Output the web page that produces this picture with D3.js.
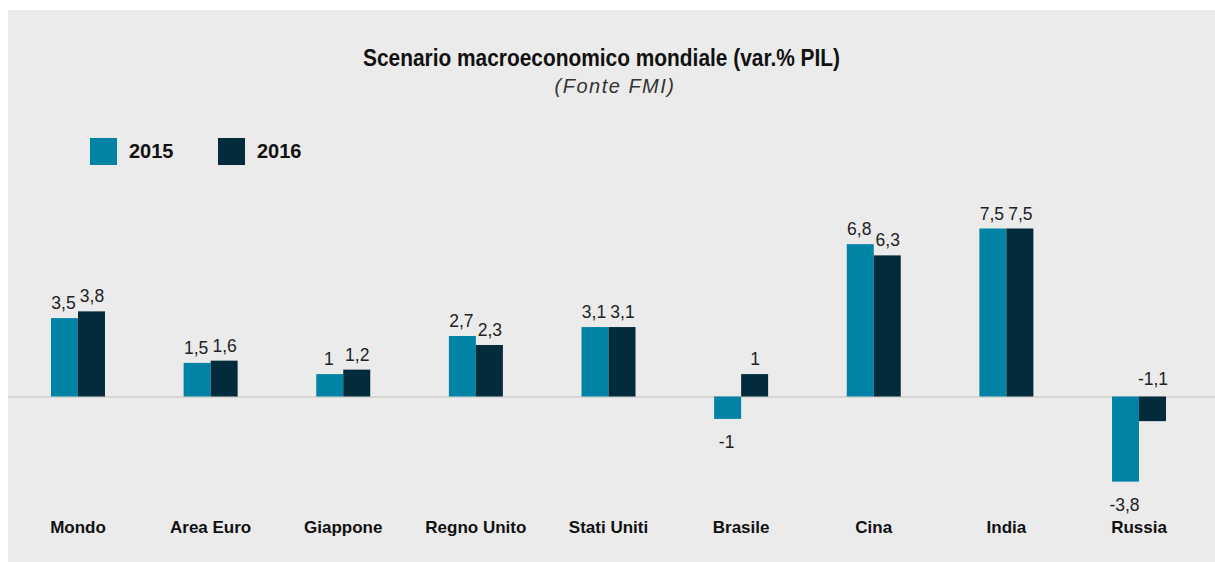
<!DOCTYPE html>
<html>
<head>
<meta charset="utf-8">
<script src="https://cdn.jsdelivr.net/npm/d3@7"></script>
<style>
  html, body { margin: 0; padding: 0; background: #ffffff; }
  svg { display: block; }
</style>
</head>
<body>
<svg id="chart" width="1215" height="562"></svg>
<script>
// ---- DATA ----
const categories = ["Mondo", "Area Euro", "Giappone", "Regno Unito", "Stati Uniti", "Brasile", "Cina", "India", "Russia"];
const seriesNames = ["2015", "2016"];
const values2015 = [3.5, 1.5, 1, 2.7, 3.1, -1, 6.8, 7.5, -3.8];
const values2016 = [3.8, 1.6, 1.2, 2.3, 3.1, 1, 6.3, 7.5, -1.1];
const titleText = "Scenario macroeconomico mondiale (var.% PIL)";
const subtitleText = "(Fonte FMI)";
// label of this (category, series) is drawn above the zero line
const labelsAboveZero = [["Russia", "2016"]];

// ---- STYLE ----
const W = 1215, H = 562;
const colors = { "2015": "#0083a5", "2016": "#022b3b" };
const panelColor = "#ebebeb";

const svg = d3.select("#chart");

svg.append("rect").attr("x", 8).attr("y", 10).attr("width", W - 8).attr("height", H - 10)
  .attr("fill", panelColor);

// scales
const x = d3.scalePoint().domain(categories).range([78, 1139]);
const xs = d3.scaleBand().domain(seriesNames).range([-27, 27]);
const y = d3.scaleLinear().domain([-4, 8]).range([396.5 + 4 * 22.4, 396.5 - 8 * 22.4]);

const rows = [];
categories.forEach((c, i) => {
  rows.push({ cat: c, s: "2015", v: values2015[i] });
  rows.push({ cat: c, s: "2016", v: values2016[i] });
});

// zero line
svg.append("line")
  .attr("x1", 8).attr("x2", W)
  .attr("y1", y(0) + 0.5).attr("y2", y(0) + 0.5)
  .attr("stroke", "#d6d6d3").attr("stroke-width", 2);

// bars
svg.append("g").selectAll("rect").data(rows).join("rect")
  .attr("x", d => x(d.cat) + xs(d.s))
  .attr("width", xs.bandwidth())
  .attr("y", d => Math.min(y(d.v), y(0)))
  .attr("height", d => Math.abs(y(d.v) - y(0)))
  .attr("fill", d => colors[d.s]);

// value labels
const fmt = v => String(v).replace(".", ",");
const isAbove = d => labelsAboveZero.some(p => p[0] === d.cat && p[1] === d.s);
svg.append("g").selectAll("text").data(rows).join("text")
  .attr("x", d => x(d.cat) + xs(d.s) + xs.bandwidth() / 2 + (d.s === "2015" ? -1 : 0.5))
  .attr("y", d => {
    if (isAbove(d)) return y(0) - 11.5;
    return d.v >= 0 ? y(d.v) - 9 : y(d.v) + 29.5;
  })
  .attr("text-anchor", "middle")
  .attr("font-family", "'Liberation Sans', Arial, sans-serif")
  .attr("font-size", 17.5)
  .attr("fill", "#222")
  .text(d => fmt(d.v));

// category labels
svg.append("g").selectAll("text").data(categories).join("text")
  .attr("x", d => x(d))
  .attr("y", 533)
  .attr("text-anchor", "middle")
  .attr("font-family", "'Liberation Sans', Arial, sans-serif")
  .attr("font-weight", "bold")
  .attr("font-size", 17)
  .attr("fill", "#111")
  .text(d => d);

// title (condensed look)
svg.append("text")
  .attr("x", 363).attr("y", 66)
  .attr("font-family", "'Liberation Sans', Arial, sans-serif")
  .attr("font-weight", "bold")
  .attr("font-size", 23)
  .attr("textLength", 477)
  .attr("lengthAdjust", "spacingAndGlyphs")
  .attr("fill", "#111")
  .text(titleText);

svg.append("text")
  .attr("x", 615).attr("y", 92.5)
  .attr("text-anchor", "middle")
  .attr("font-family", "'Liberation Sans', Arial, sans-serif")
  .attr("font-style", "italic")
  .attr("font-size", 20)
  .attr("letter-spacing", 1.5)
  .attr("fill", "#333")
  .text(subtitleText);

// legend
const legendX = { "2015": 90, "2016": 218 };
const lg = svg.append("g").selectAll("g").data(seriesNames).join("g")
  .attr("transform", d => `translate(${legendX[d]},138)`);
lg.append("rect").attr("width", 27).attr("height", 27).attr("fill", d => colors[d]);
lg.append("text").attr("x", 39).attr("y", 19.5)
  .attr("font-family", "'Liberation Sans', Arial, sans-serif")
  .attr("font-weight", "bold")
  .attr("font-size", 20)
  .attr("fill", "#111")
  .text(d => d);
</script>
</body>
</html>
